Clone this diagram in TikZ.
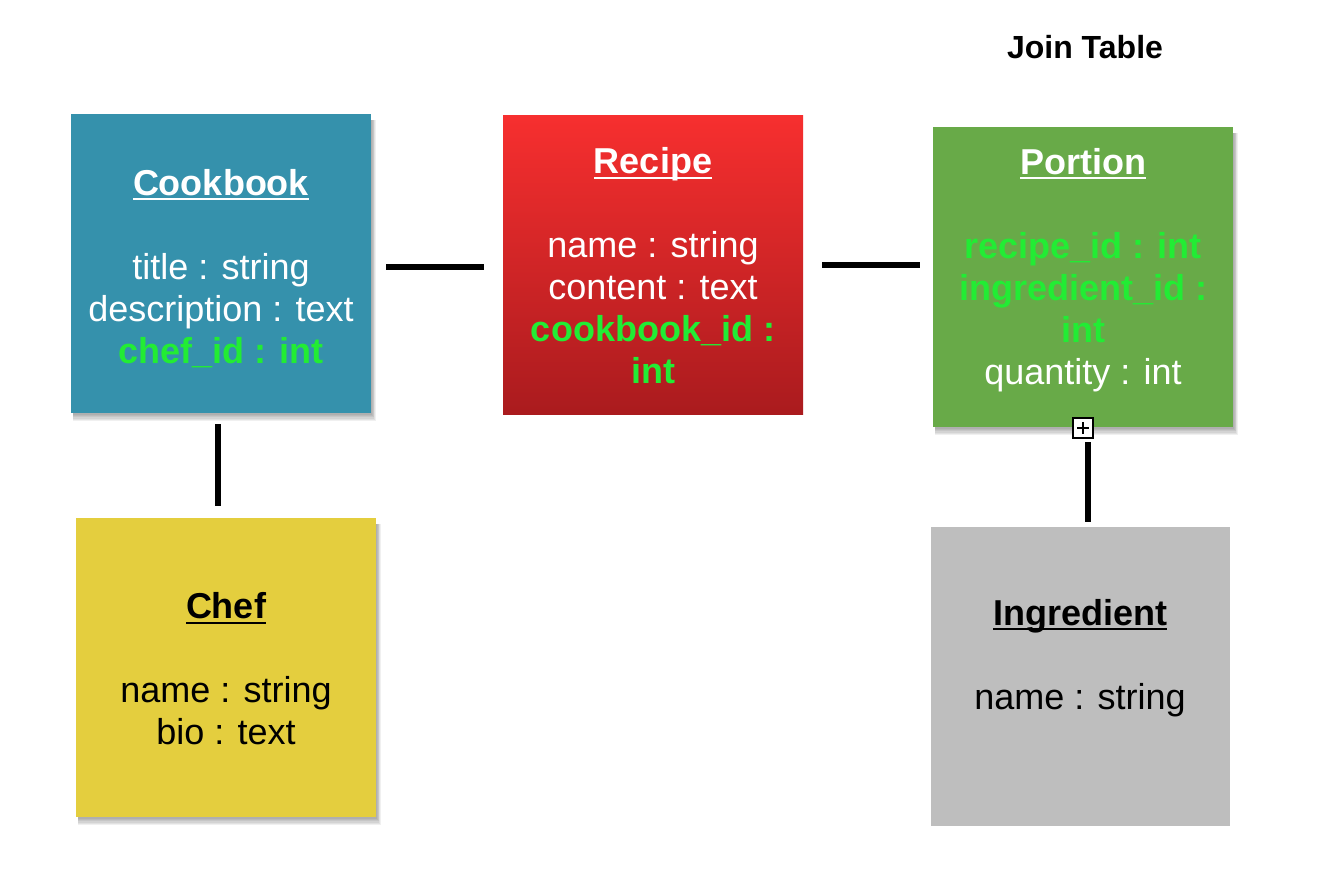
\documentclass[tikz,border=0pt]{standalone}
\usepackage{fontspec}
\setmainfont{Liberation Sans}
\usetikzlibrary{calc,backgrounds}
\pgfdeclarelayer{paper}
\pgfsetlayers{paper,background,main}
\definecolor{keygreen}{RGB}{34,236,52}
\definecolor{cookblue}{RGB}{53,145,172}
\definecolor{rectop}{RGB}{247,47,47}
\definecolor{recbot}{RGB}{170,27,30}
\definecolor{portgreen}{RGB}{104,170,72}
\definecolor{chefyellow}{RGB}{228,206,62}
\definecolor{inggray}{RGB}{190,190,190}
\newcommand\ttl[1]{\setbox0\hbox{\bfseries #1}\rlap{\rule[-5pt]{\wd0}{2pt}}\box0}
\newcommand\softshadow[1]{%
  \foreach \i in {0,...,5}{%
    \fill[black,opacity=0.06] ($(#1.north west)+(2,6)$) rectangle ($(#1.south east)+(1+\i*0.7,2+\i*1.1)$);}}
\begin{document}
\begin{tikzpicture}[x=1pt,y=-1pt,
  box/.style={minimum width=300pt,minimum height=299pt,inner sep=0pt,draw=none},
  txt/.style={align=center,font=\fontsize{36}{42}\selectfont,text=white,inner sep=0pt},
  key/.style={},
  conn/.style={line width=6pt,draw=black}]
\begin{pgfonlayer}{paper}
\fill[white] (0,0) rectangle (1322,876);
\end{pgfonlayer}
\useasboundingbox (0,0) rectangle (1322,876);

% boxes
\node[box,fill=cookblue] (cook) at (221,263.5) {};
\node[box,top color=rectop,bottom color=recbot] (rec) at (653,264.5) {};
\node[box,fill=portgreen,minimum height=300pt] (port) at (1083,277) {};
\node[box,fill=chefyellow] (chef) at (226,667.5) {};
\node[box,fill=inggray,minimum width=299pt] (ing) at (1080.5,676.5) {};

\begin{pgfonlayer}{background}
  \softshadow{cook}
  \softshadow{port}
  \softshadow{chef}
\end{pgfonlayer}

% texts
\node[txt] (cookT) at (221,268.5) {\ttl{Cookbook}\\[42pt] title : string\\ description : text\\ \textcolor{keygreen}{\bfseries chef\_id : int}};
\node[txt] (recT) at (653,266) {\ttl{Recipe}\\[42pt] name : string\\ content : text\\ \textcolor{keygreen}{\bfseries cookbook\_id :}\\ \textcolor{keygreen}{\bfseries int}};
\node[txt] (portT) at (1083,270) {\ttl{Portion}\\[42pt] \textcolor{keygreen}{\bfseries recipe\_id : int}\\ \textcolor{keygreen}{\bfseries ingredient\_id :}\\ \textcolor{keygreen}{\bfseries int}\\ quantity : int};
\node[txt,text=black] (chefT) at (226,669) {\ttl{Chef}\\[42pt] name : string\\ bio : text};
\node[txt,text=black] (ingT) at (1080,658) {\ttl{Ingredient}\\[42pt] name : string};

\node[font=\fontsize{32}{38}\selectfont\bfseries,inner sep=0pt] (join) at (1085,47) {Join Table};

% plus handle
\node[draw=black,line width=2pt,fill=white,minimum size=20pt,inner sep=0pt,
  path picture={\draw[line width=1.5pt] ($(path picture bounding box.west)+(4,0)$) -- ($(path picture bounding box.east)+(-4,0)$);
                \draw[line width=1.5pt] ($(path picture bounding box.north)+(0,4)$) -- ($(path picture bounding box.south)+(0,-4)$);}]
  (plus) at (1083,428) {};

% connectors
\draw[conn,shorten <=15pt,shorten >=19pt] ([yshift=-3.5pt]cook.east) -- ([yshift=-3.5pt]cook.east -| rec.west);
\draw[conn,shorten <=19pt,shorten >=13pt] (rec.east) -- (rec.east -| port.west);
\draw[conn,shorten <=11pt,shorten >=12pt] ([xshift=-3pt]cook.south) -- ([xshift=-3pt]cook.south |- chef.north);
\draw[conn,shorten <=3pt,shorten >=5pt] ([xshift=5pt]plus.south) -- ([xshift=5pt]plus.south |- ing.north);
\end{tikzpicture}
\end{document}
